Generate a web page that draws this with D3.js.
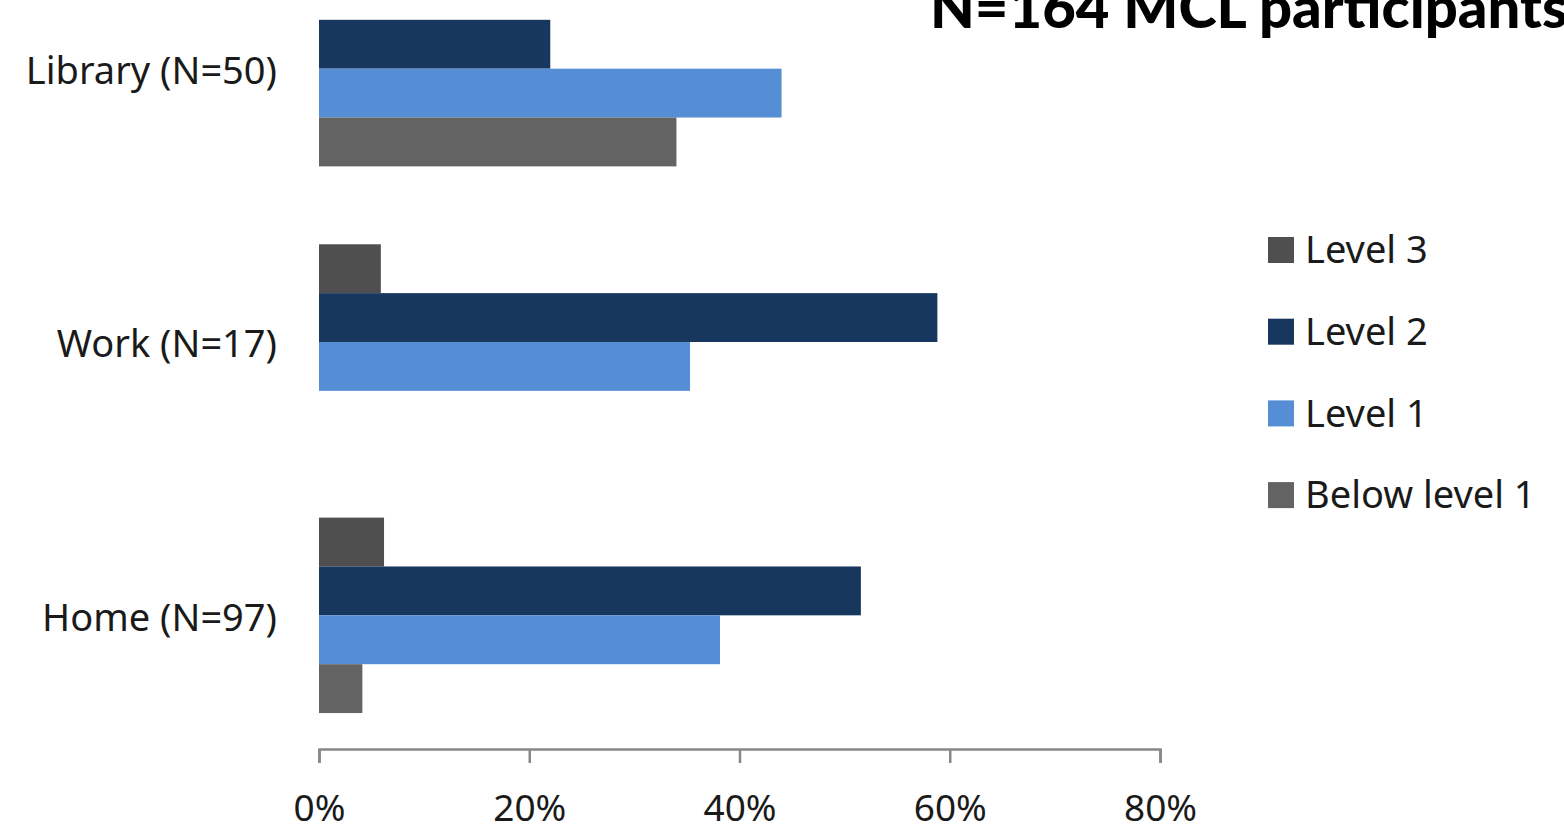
<!DOCTYPE html>
<html>
<head>
<meta charset="utf-8">
<script src="https://cdn.jsdelivr.net/npm/d3@7"></script>
<style>
  html, body { margin: 0; padding: 0; background: #fff; }
  svg { display: block; }
</style>
</head>
<body>
<svg id="chart" width="1564" height="833"></svg>
<script>
// Reading level by where participants accessed the course
const categories = ["Library (N=50)", "Work (N=17)", "Home (N=97)"];
const seriesNames = ["Level 3", "Level 2", "Level 1", "Below level 1"];
const level3 = [0, 1 / 17, 6 / 97];
const level2 = [11 / 50, 10 / 17, 50 / 97];
const level1 = [22 / 50, 6 / 17, 37 / 97];
const belowLevel1 = [17 / 50, 0, 4 / 97];
const tickValues = [0, 0.2, 0.4, 0.6, 0.8];
const titleText = "N=164 MCL participants";

const seriesValues = [level3, level2, level1, belowLevel1];
const colors = ["#4f4f4f", "#17375e", "#558ed5", "#636363"];

const svg = d3.select("#chart");
const font = "'Noto Sans', sans-serif";

const x = d3.scaleLinear().domain([0, 0.8]).range([319, 1160]);
const y = d3.scaleBand().domain(categories).range([-68, 752])
  .paddingInner(0.285).paddingOuter(0.1425);
const ySub = d3.scaleBand().domain(seriesNames).range([0, y.bandwidth()]);

// grouped bars
const rows = [];
categories.forEach((c, i) => {
  seriesNames.forEach((s, j) => {
    rows.push({ cat: c, series: s, value: seriesValues[j][i], color: colors[j] });
  });
});

svg.append("g").selectAll("rect").data(rows).join("rect")
  .attr("x", x(0))
  .attr("y", d => y(d.cat) + ySub(d.series))
  .attr("width", d => x(d.value) - x(0))
  .attr("height", ySub.bandwidth())
  .attr("fill", d => d.color);

// x axis
const axisY = 749;
const xAxis = svg.append("g").attr("transform", `translate(0,${axisY})`)
  .call(d3.axisBottom(x).tickValues(tickValues).tickFormat(d3.format(".0%"))
    .tickSizeInner(14).tickSizeOuter(14).tickPadding(32));
xAxis.select(".domain").attr("stroke", "#878787").attr("stroke-width", 2.5);
xAxis.selectAll(".tick line").attr("stroke", "#878787").attr("stroke-width", 2.5);
xAxis.selectAll(".tick text")
  .attr("font-family", font).attr("font-size", 37).attr("fill", "#1a1a1a");

// category labels
svg.append("g").selectAll("text").data(categories).join("text")
  .attr("x", 277)
  .attr("y", d => y(d) + y.bandwidth() / 2 + 2)
  .attr("dy", "0.35em")
  .attr("text-anchor", "end")
  .attr("font-family", font).attr("font-size", 38).attr("fill", "#1a1a1a")
  .text(d => d);

// legend
const legend = svg.append("g").selectAll("g").data(seriesNames).join("g")
  .attr("transform", (d, i) => `translate(1268,${250 + i * 81.7})`);
legend.append("rect")
  .attr("x", 0).attr("y", -13).attr("width", 26).attr("height", 26)
  .attr("fill", (d, i) => colors[i]);
legend.append("text")
  .attr("x", 37).attr("y", 0).attr("dy", "0.35em")
  .attr("font-family", font).attr("font-size", 38).attr("fill", "#1a1a1a")
  .text(d => d);

// title
svg.append("text")
  .attr("x", 930).attr("y", 28)
  .attr("font-family", "Lato, sans-serif").attr("font-weight", 900)
  .attr("font-size", 58).attr("fill", "#000")
  .text(titleText);
</script>
</body>
</html>
